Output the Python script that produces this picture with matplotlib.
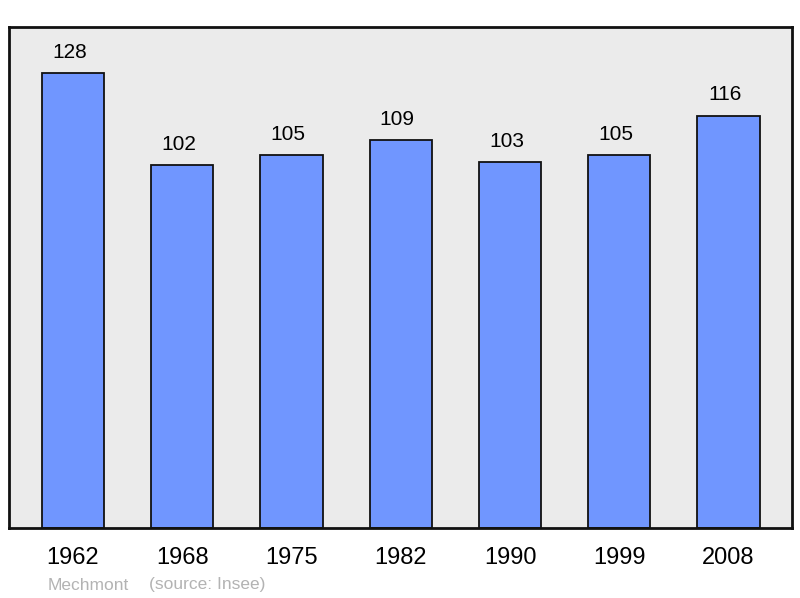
import matplotlib
matplotlib.use("Agg")
import matplotlib.pyplot as plt

years = ["1962", "1968", "1975", "1982", "1990", "1999", "2008"]
population = [128, 102, 105, 109, 103, 105, 116]
place = "Mechmont"
source = "(source: Insee)"

plt.rcParams['font.family'] = ['Liberation Sans', 'DejaVu Sans']

fig = plt.figure(figsize=(8, 5.98), dpi=100)
ax = fig.add_axes([9/800, 1-528/598, 783/800, 501/598])
ax.set_facecolor('#ebebeb')
x = list(range(len(years)))
ax.bar(x, population, width=0.57, color='#7096ff', edgecolor='#111111', linewidth=1.3, zorder=2)
for xi, v in zip(x, population):
    ax.annotate(str(v), (xi, v), xytext=(-2.5, 8), textcoords='offset points',
                ha='center', va='bottom', fontsize=15)
ax.set_xlim(-0.585, 6.58)
ax.set_ylim(0, 140.9)
ax.set_yticks([])
ax.set_xticks(x)
ax.set_xticklabels(years, fontsize=17)
ax.tick_params(axis='x', length=0, pad=14)
for s in ax.spines.values():
    s.set_linewidth(2)
    s.set_color('#111111')
fig.text(48/800, 1-585/598, place, fontsize=12.5, color='#b3b3b3', va='center')
fig.text(149/800, 1-585/598, source, fontsize=12.5, color='#b3b3b3', va='center')
fig.savefig("out.png", dpi=100)
